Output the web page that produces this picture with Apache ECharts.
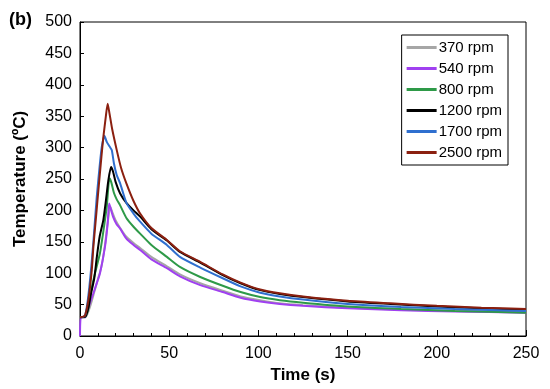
<!DOCTYPE html>
<html>
<head>
<meta charset="utf-8">
<script src="https://cdn.jsdelivr.net/npm/echarts@6/dist/echarts.min.js"></script>
<style>
html,body{margin:0;padding:0;background:#fff;}
#chart{width:550px;height:389px;}
</style>
</head>
<body>
<div id="chart"></div>
<script>
const seriesNames = ['370 rpm', '540 rpm', '800 rpm', '1200 rpm', '1700 rpm', '2500 rpm'];
const xTicks = [0, 50, 100, 150, 200, 250];
const yTicks = [0, 50, 100, 150, 200, 250, 300, 350, 400, 450, 500];

const rpm370 = [[0,30],[3,30],[4,34],[6,50],[8,70],[10,90],[12,110],[14,145],[15.5,180],[17,206],[18,198],[20,184],[22.5,172],[26,158],[30,148],[33.7,140],[40,126],[48.7,111],[56,98],[67.4,84],[80,72],[90,63],[101,57],[112,52],[125,49],[150,45],[180,42],[210,40],[250,38]];
const rpm540 = [[0,0],[0.5,30],[3,30],[3.7,36],[5.5,52],[7.5,68],[9.5,85],[11.2,100],[14,142],[15.5,179],[16.3,211],[17,205],[18.5,190],[20.5,178],[22.5,171],[26,155],[30,145],[33.7,137],[40,122],[48.7,108],[56,95],[67.4,81],[80,70],[90,61],[101,55],[112,51],[125,48],[150,44],[180,41],[210,39],[250,37]];
const rpm800 = [[0,30],[3,31],[4.5,42],[5.6,63],[8,95],[10,118],[11.2,132],[13,165],[15,206],[16.5,251],[17.5,245],[19,228],[20.5,218],[22.5,208],[26,188],[30,174],[33.7,163],[40,145],[48.7,126],[56,110],[67.4,94],[80,80],[90,70],[101,62],[112,57],[125,53],[150,47],[180,43],[210,40],[250,37]];
const rpm1200 = [[0,30],[3,31],[4.7,45],[6,65],[8,92],[9.4,125],[11,158],[13.1,185],[14.5,215],[15.9,248],[17.4,269],[18.5,262],[20,245],[22.5,227],[26,212],[30,200],[33.7,190],[40,170],[48.7,152],[56,134],[67.4,117],[80,97],[90,84],[101,73],[112,67],[125,62],[150,55],[174,51],[200,47],[225,44],[250,42]];
const rpm1700 = [[0,30],[2,31],[3,34],[4.5,60],[6,100],[7.5,150],[9.4,222],[11,270],[12.2,301],[13.7,319],[15,309],[16.5,302],[17.8,296],[19,275],[20.5,257],[22.5,243],[26,212],[30,195],[33.7,182],[40,163],[48.7,145],[56,126],[67.4,109],[80,92],[90,79],[101,69],[112,63],[125,58],[150,51],[180,46],[210,43],[250,40]];
const rpm2500 = [[0,30],[2,31],[3,34],[4.7,57],[6.6,105],[7.5,142],[9,190],[10.3,232],[12,285],[13.1,317],[14.5,350],[15.5,370],[16.5,355],[18,330],[20.6,296],[23,268],[26,243],[30,215],[33.7,195],[40,172],[48.7,153],[56,135],[67.4,118],[80,98],[90,85],[101,74],[112,68],[125,63],[150,56],[174,52],[200,48],[225,45],[250,43]];

const dataSets = [rpm370, rpm540, rpm800, rpm1200, rpm1700, rpm2500];
const colors = ['#a6a6a6', '#a040f0', '#2e9a48', '#000000', '#2f6fcf', '#8b2010'];

const chart = echarts.init(document.getElementById('chart'), null, {renderer: 'canvas'});
const font = 'Liberation Sans, Arial, sans-serif';

chart.setOption({
  animation: false,
  backgroundColor: '#fff',
  title: {
    text: '(b)', left: 4, top: 6,
    textStyle: {fontFamily: font, fontWeight: 'bold', fontSize: 18, color: '#000'}
  },
  grid: {left: 80, right: 24, top: 22, bottom: 53, show: true, borderColor: '#000', borderWidth: 1, backgroundColor: 'transparent'},
  legend: {
    orient: 'vertical', right: 42, top: 35,
    data: seriesNames,
    borderColor: '#000', borderWidth: 1, backgroundColor: '#fff',
    padding: [5, 6, 5, 5],
    itemWidth: 30, itemHeight: 3, itemGap: 6,
    icon: 'rect',
    textStyle: {fontFamily: font, fontSize: 15, color: '#000', padding: [0, 0, 0, -3]}
  },
  xAxis: [{
    type: 'value', min: 0, max: 250, interval: 50,
    name: 'Time (s)', nameLocation: 'middle', nameGap: 30,
    nameTextStyle: {fontFamily: font, fontWeight: 'bold', fontSize: 17, color: '#000'},
    axisLine: {lineStyle: {color: '#000', width: 1}},
    axisTick: {inside: true, length: 6, lineStyle: {color: '#000'}},
    axisLabel: {fontFamily: font, fontSize: 16, color: '#000', margin: 10,
      formatter: v => xTicks.includes(v) ? String(v) : ''},
    splitLine: {show: false}
  }, {
    type: 'value', min: 0, max: 250, interval: 10, position: 'bottom', offset: 0,
    axisLine: {show: false},
    axisTick: {show: true, inside: true, length: 3, lineStyle: {color: '#000'}},
    axisLabel: {show: false},
    splitLine: {show: false}
  }],
  yAxis: {
    type: 'value', min: 0, max: 500, interval: 50,
    name: 'Temperature (ºC)', nameLocation: 'middle', nameGap: 51, nameRotate: 90,
    nameTextStyle: {fontFamily: font, fontWeight: 'bold', fontSize: 17, color: '#000'},
    axisLine: {lineStyle: {color: '#000', width: 1}},
    axisTick: {inside: true, length: 4, lineStyle: {color: '#000'}},
    axisLabel: {fontFamily: font, fontSize: 16, color: '#000', margin: 8,
      formatter: v => yTicks.includes(v) ? String(v) : ''},
    splitLine: {show: false}
  },
  series: seriesNames.map((n, i) => ({
    name: n, type: 'line', data: dataSets[i], xAxisIndex: 0,
    symbol: 'none', smooth: 0.2,
    lineStyle: {color: colors[i], width: 2},
    itemStyle: {color: colors[i]}
  }))
});
</script>
</body>
</html>
